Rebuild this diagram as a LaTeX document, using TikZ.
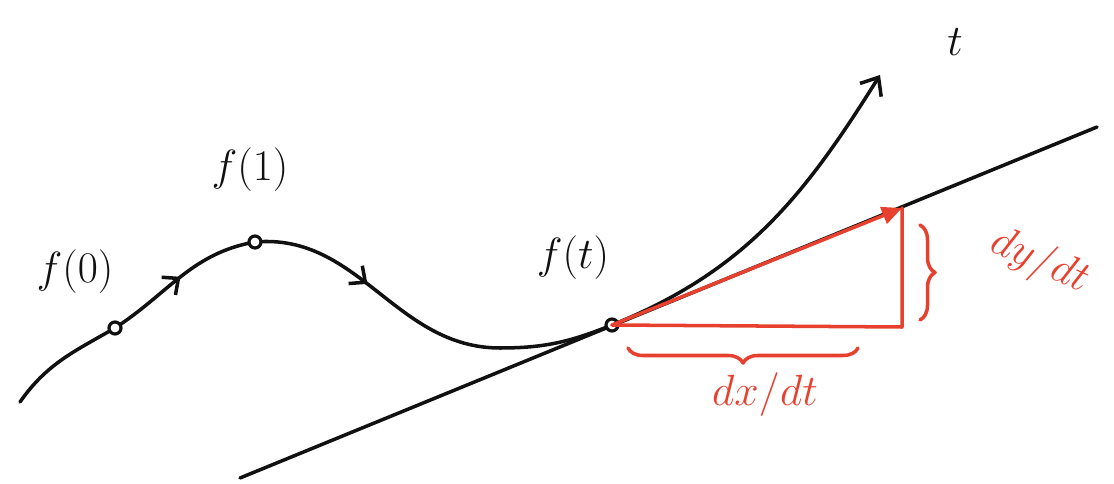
\documentclass[tikz,border=0pt]{standalone}
\usepackage{xcolor}
\usepackage{tikz}
\usetikzlibrary{positioning,arrows.meta,decorations.pathreplacing,decorations.markings}
\definecolor{mInk}{HTML}{111111}
\definecolor{mRed}{HTML}{E8402E}
\tikzset{
  ink/.style={draw=mInk, line width=2pt, line cap=round, line join=round},
  redink/.style={draw=mRed, line width=2pt, line cap=round, line join=round},
  curvept/.style={circle, draw=mInk, fill=white, line width=1.8pt, inner sep=0pt, minimum size=2.4mm},
  lbl/.style={font=\fontsize{32}{36}\selectfont, text=mInk},
  redlbl/.style={font=\fontsize{30}{34}\selectfont, text=mRed},
  midarrow/.style={postaction=decorate, decoration={markings, mark=at position #1 with {\arrow{Straight Barb[length=2.5mm,width=4.5mm]}}}},
  redbrace/.style={redink, decorate, decoration={brace, amplitude=3mm}}
}

\begin{document}
\begin{tikzpicture}[x=0.02cm,y=0.02cm]
\useasboundingbox (0,0) rectangle (1114,483);
% points of the curve
\coordinate (s) at (20,81);
\coordinate (p0) at (115,155);
\coordinate (p1) at (255,241);
\coordinate (m) at (500,135);
\coordinate (pt) at (612,158);
\coordinate (e) at (880,408);
% tangent line
\coordinate (tl1) at (240,5);
\coordinate (tl2) at (1097,356);
\draw[ink] (tl1) -- (tl2);
% the curve
\draw[ink] (s) to[out=55,in=210] (p0);
\draw[ink, midarrow=0.5] (p0) to[out=33,in=190] (p1);
\draw[ink, midarrow=0.45] (p1) to[out=5,in=180] (m);
\draw[ink] (m) to[out=0,in=202] (pt);
\draw[ink, -{Straight Barb[length=3mm,width=5mm]}] (pt) to[out=22,in=238] (e);
\node[curvept] (d0) at (p0) {};
\node[curvept] (d1) at (p1) {};
\node[curvept] (dt) at (pt) {};
% red triangle
\coordinate (ra) at (902,275);
\coordinate (rb) at (902,156);
\draw[redink] (dt.center) -- (rb) -- (ra);
\draw[redink, -{Triangle[length=4mm,width=3.5mm]}] (dt.center) -- (ra);
% braces
\coordinate (bx1) at (858,135);
\coordinate (bx2) at (628,135);
\coordinate (by1) at (920,258);
\coordinate (by2) at (920,163);
\draw[redbrace] (bx1) -- (bx2);
\draw[redbrace] (by1) -- (by2);
% labels
\node[lbl] (l0) at (75,211) {$f(0)$};
\node[lbl] (l1) at (250,313) {$f(1)$};
\node[lbl] (lt) at (573,225) {$f(t)$};
\node[lbl] (ltt) at (955,441) {$t$};
\node[redlbl] (ldx) at (765,88) {$dx/dt$};
\node[redlbl, rotate=-24] (ldy) at (1040,221) {$dy/dt$};
\end{tikzpicture}
\end{document}
